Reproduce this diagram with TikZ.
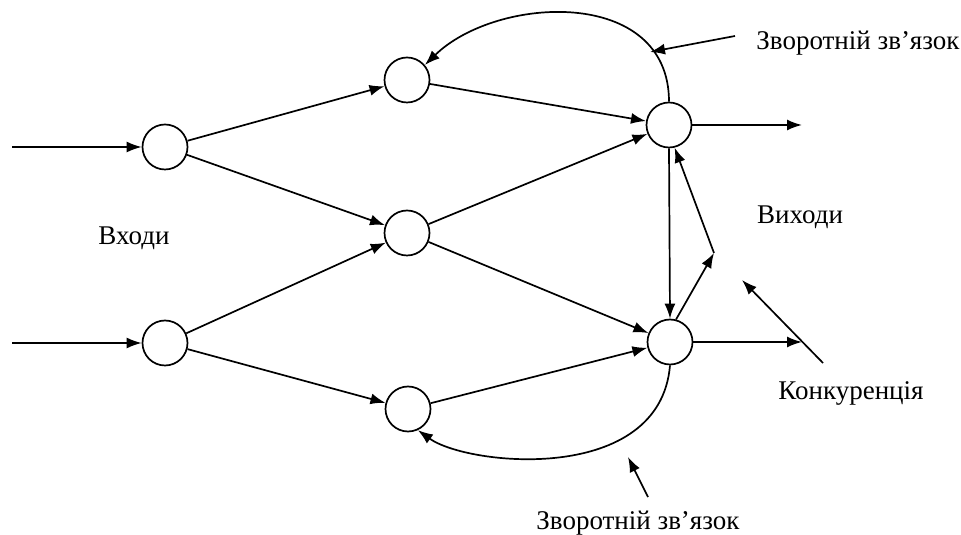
\documentclass[tikz,border=0pt]{standalone}
\usepackage{fontspec}
\setmainfont{Liberation Serif}
\usetikzlibrary{arrows.meta}

\begin{document}
\begin{tikzpicture}[neuron/.style={draw, circle, minimum size=45pt, inner sep=0pt}, x=1pt, y=1pt,
			>={Latex[length=15pt,width=11pt]},   %Voreinstellung für Pfeilspitzen
			line width=1.7pt, font=\fontsize{27}{32}\selectfont]
			\useasboundingbox (0,0) rectangle (961,535);
			% Neuronen zeichnen
			\node[neuron] (in1) at (165,388) {};
			\node[neuron] (in2) at (165,192) {};
			\node[neuron] (h1) at (407,455) {};
			\node[neuron] (h2) at (407,302) {};
			\node[neuron] (h3) at (408,126) {};
			\node[neuron] (out1) at (669,410) {};
			\node[neuron] (out2) at (670,193) {};
			% Ein- und Ausgaenge
			\coordinate (x1) at (12,388);
			\coordinate (x2) at (12,192);
			\coordinate (y1) at (802,410);
			\coordinate (y2) at (802,193);
			\draw[->] (x1) -- (in1);
			\draw[->] (x2) -- (in2);
			\draw[->] (out1) -- (y1);
			\draw[->] (out2) -- (y2);
			% Verbindungen zwischen den Schichten
			\foreach \a/\b in {in1/h1, in1/h2, in2/h2, in2/h3, h1/out1, h2/out1, h2/out2, h3/out2}
				\draw[->] (\a) -- (\b);
			% Rueckkopplung
			\draw[->] (out1.north) .. controls +(0,115) and +(72,70) .. (h1.40);
			\draw[->] (out2.south) .. controls +(-10,-120) and +(50,-36) .. (h3.-65);
			% Konkurrenz
			\coordinate (comp) at (714,282);
			\draw[->] (out1.south) -- (out2.north);
			\draw[->] (out2.75) -- (comp);
			\draw[->] (comp) -- (out1.-76);
			% Beschriftungen
			\node (lblin) at (134,297) {Входи};
			\node (lblout) at (800,318) {Виходи};
			\node (lblcomp) at (851,142) {Конкуренція};
			\node (lblfbtop) at (858,492) {Зворотній зв’язок};
			\node (lblfbbot) at (638,12) {Зворотній зв’язок};
			% Hinweispfeile
			\coordinate (p1s) at (735,499);
			\coordinate (p1e) at (650,483);
			\coordinate (p2s) at (648,38);
			\coordinate (p2e) at (628,78);
			\coordinate (p3s) at (823,172);
			\coordinate (p3e) at (742,255);
			\draw[->] (p1s) -- (p1e);
			\draw[->] (p2s) -- (p2e);
			\draw[->] (p3s) -- (p3e);
		\end{tikzpicture}
\end{document}
